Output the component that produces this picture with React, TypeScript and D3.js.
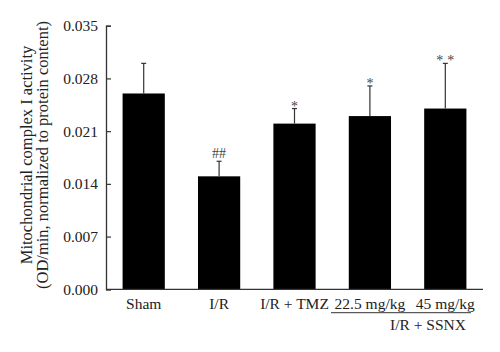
import React, { useRef, useEffect } from "react";
import * as d3 from "d3";

const groups = ["Sham", "I/R", "I/R + TMZ", "22.5 mg/kg", "45 mg/kg"];
const means = [0.026, 0.015, 0.022, 0.023, 0.024];
const errors = [0.004, 0.002, 0.002, 0.004, 0.006];
const marks = ["", "##", "*", "*", "**"];
const yTicks = [0, 0.007, 0.014, 0.021, 0.028, 0.035];

const App = () => {
  const ref = useRef<SVGSVGElement>(null);

  useEffect(() => {
    const svg = d3.select(ref.current);
    svg.selectAll("*").remove();

    const left = 106;
    const right = 483;
    const top = 25.7;
    const bottom = 289.3;
    const font = "'Liberation Serif', 'Times New Roman', serif";
    const ink = "#333";

    const x = d3
      .scaleBand()
      .domain(groups)
      .range([left, right])
      .paddingInner(0.44)
      .paddingOuter(0.22);
    const y = d3.scaleLinear().domain([0, 0.035]).range([bottom, top]);

    // bars
    svg
      .selectAll(".bar")
      .data(groups)
      .enter()
      .append("rect")
      .attr("x", (d) => x(d)!)
      .attr("width", x.bandwidth())
      .attr("y", (d, i) => y(means[i]))
      .attr("height", (d, i) => bottom - y(means[i]))
      .attr("fill", "#000");

    // error bars (upper only)
    const eb = svg
      .selectAll(".err")
      .data(groups)
      .enter()
      .append("g")
      .attr("stroke", ink)
      .attr("stroke-width", 1.2);
    eb.append("line")
      .attr("x1", (d) => x(d)! + x.bandwidth() / 2)
      .attr("x2", (d) => x(d)! + x.bandwidth() / 2)
      .attr("y1", (d, i) => y(means[i]))
      .attr("y2", (d, i) => y(means[i] + errors[i]));
    eb.append("line")
      .attr("x1", (d) => x(d)! + x.bandwidth() / 2 - 2.5)
      .attr("x2", (d) => x(d)! + x.bandwidth() / 2 + 2.5)
      .attr("y1", (d, i) => y(means[i] + errors[i]))
      .attr("y2", (d, i) => y(means[i] + errors[i]));

    // significance marks
    svg
      .selectAll(".sig")
      .data(groups)
      .enter()
      .append("text")
      .attr("x", (d, i) => x(d)! + x.bandwidth() / 2 + (marks[i] === "**" ? 2 : 0))
      .attr("y", (d, i) =>
        y(means[i] + errors[i]) + (marks[i].startsWith("#") ? -3 : 2)
      )
      .attr("text-anchor", "middle")
      .attr("font-family", font)
      .attr("font-size", 14)
      .attr("letter-spacing", (d, i) => (marks[i] === "**" ? 4 : 0))
      .attr("fill", "#444")
      .text((d, i) => marks[i]);

    // y axis
    const yAxis = svg
      .append("g")
      .attr("transform", `translate(${left},0)`)
      .call(
        d3
          .axisLeft(y)
          .tickValues(yTicks)
          .tickFormat(d3.format(".3f"))
          .tickSize(-5)
          .tickPadding(8)
      );
    yAxis.select(".domain").attr("stroke", ink).attr("stroke-width", 1.3);
    yAxis.selectAll(".tick line").attr("stroke", ink).attr("stroke-width", 1.2);
    yAxis
      .selectAll(".tick text")
      .attr("font-family", font)
      .attr("font-size", 15.5)
      .attr("fill", "#222");

    // x axis
    const xAxis = svg
      .append("g")
      .attr("transform", `translate(0,${bottom})`)
      .call(d3.axisBottom(x).tickSize(0).tickPadding(9));
    xAxis
      .select(".domain")
      .attr("d", `M${left},0H${right}`)
      .attr("stroke", ink)
      .attr("stroke-width", 1.3);
    xAxis
      .selectAll(".tick text")
      .attr("font-family", font)
      .attr("font-size", 15.5)
      .attr("fill", "#222");

    // SSNX group bracket
    svg
      .append("line")
      .attr("x1", 331)
      .attr("x2", 471)
      .attr("y1", 312.7)
      .attr("y2", 312.7)
      .attr("stroke", ink)
      .attr("stroke-width", 1);
    svg
      .append("text")
      .attr("x", 428)
      .attr("y", 330)
      .attr("text-anchor", "middle")
      .attr("font-family", font)
      .attr("font-size", 15.5)
      .attr("fill", "#222")
      .text("I/R + SSNX");

    // y title
    const title = svg
      .append("text")
      .attr("transform", "translate(0,155) rotate(-90)")
      .attr("text-anchor", "middle")
      .attr("font-family", font)
      .attr("font-size", 16.5)
      .attr("fill", "#222");
    title.append("tspan").attr("x", 0).attr("y", 32).text("Mitochondrial complex I activity");
    title
      .append("tspan")
      .attr("x", 0)
      .attr("y", 48)
      .text("(OD/min, normalized to protein content)");
  }, []);

  return (
    <svg
      ref={ref}
      width={500}
      height={352}
      style={{ display: "block", position: "absolute", left: 0, top: 0, background: "#fff" }}
    />
  );
};

export default App;
